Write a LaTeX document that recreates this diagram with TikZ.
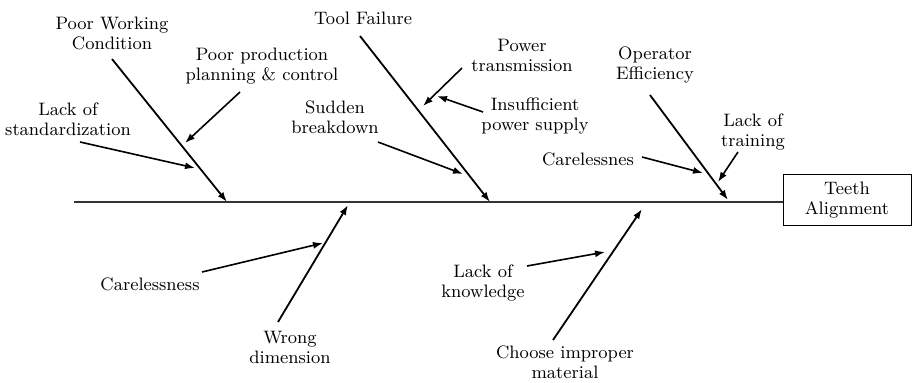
\documentclass[tikz,border=0pt]{standalone}
\usetikzlibrary{arrows.meta}
\tikzset{
  cause/.style={align=center, font=\fontsize{9}{10}\selectfont, inner sep=0pt},
  bone/.style={line width=0.9pt, -{Latex[length=5pt,width=3.5pt]}},
  rib/.style={line width=0.8pt, -{Latex[length=5pt,width=3.5pt]}},
}
\begin{document}
\begin{tikzpicture}[x=0.5pt,y=-0.5pt]
\useasboundingbox (0,0) rectangle (912,382);
% head and spine
\node[cause, draw, line width=0.5pt, minimum width=64pt, minimum height=25.5pt] (head) at (847,200) {Teeth\\Alignment};
\coordinate (tail) at (74,202);
\draw[line width=1pt, black!80] (tail) -- (tail -| head.west);
% Poor Working Condition
\node[cause] (pwc) at (112,33) {Poor Working\\Condition};
\coordinate (pwcA) at (112,59);
\coordinate (pwcB) at (227,202);
\draw[bone] (pwcA) -- (pwcB);
\node[cause] (ppc) at (262,66) {Poor production\\planning \& control};
\coordinate (ppcA) at (240,92);
\coordinate (ppcB) at (185,143);
\draw[rib] (ppcA) -- (ppcB);
\node[cause] (std) at (68,119) {Lack of\\standardization};
\coordinate (stdA) at (80,142);
\coordinate (stdB) at (195,168);
\draw[rib] (stdA) -- (stdB);
% Tool Failure
\node[cause] (tool) at (363,18) {Tool Failure};
\coordinate (toolA) at (360,36);
\coordinate (toolB) at (490,202);
\draw[bone] (toolA) -- (toolB);
\node[cause] (pwr) at (522,55) {Power\\transmission};
\coordinate (pwrA) at (462,68);
\coordinate (pwrB) at (423,106);
\draw[rib] (pwrA) -- (pwrB);
\node[cause] (sup) at (535,116) {Insufficient\\power supply};
\coordinate (supA) at (483,112);
\coordinate (supB) at (437,96);
\draw[rib] (supA) -- (supB);
\node[cause] (brk) at (335,117) {Sudden\\breakdown};
\coordinate (brkA) at (378,142);
\coordinate (brkB) at (463,174);
\draw[rib] (brkA) -- (brkB);
% Operator Efficiency
\node[cause] (opr) at (655,65) {Operator\\Efficiency};
\coordinate (oprA) at (650,95);
\coordinate (oprB) at (728,200);
\draw[bone] (oprA) -- (oprB);
\node[cause] (trn) at (753,132) {Lack of\\training};
\coordinate (trnA) at (738,152);
\coordinate (trnB) at (718,182);
\draw[rib] (trnA) -- (trnB);
\node[cause] (cls) at (588,159) {Carelessnes};
\coordinate (clsA) at (642,157);
\coordinate (clsB) at (703,173);
\draw[rib] (clsA) -- (clsB);
% Wrong dimension
\node[cause] (dim) at (290,347) {Wrong\\dimension};
\coordinate (dimA) at (278,322);
\coordinate (dimB) at (348,205);
\draw[bone] (dimA) -- (dimB);
\node[cause] (crl) at (150,284) {Carelessness};
\coordinate (crlA) at (202,272);
\coordinate (crlB) at (323,243);
\draw[rib] (crlA) -- (crlB);
% Choose improper material
\node[cause] (mat) at (565,362) {Choose improper\\material};
\coordinate (matA) at (553,340);
\coordinate (matB) at (642,209);
\draw[bone] (matA) -- (matB);
\node[cause] (knw) at (483,283) {Lack of\\knowledge};
\coordinate (knwA) at (527,266);
\coordinate (knwB) at (605,252);
\draw[rib] (knwA) -- (knwB);
\end{tikzpicture}
\end{document}
